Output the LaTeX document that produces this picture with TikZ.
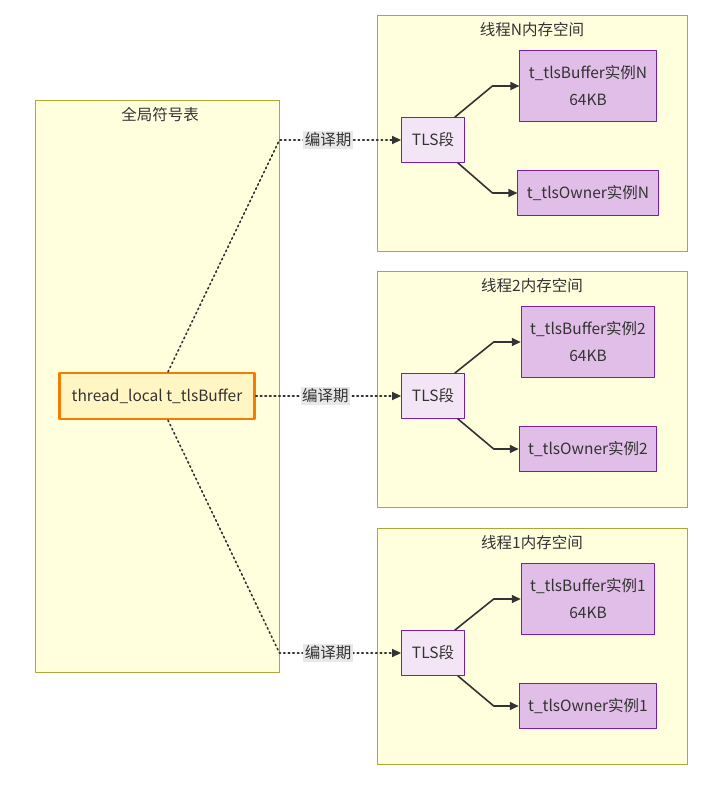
\documentclass[tikz,border=0pt]{standalone}
\usepackage{fontspec}
\setmainfont{Noto Sans CJK SC}
\usepackage{tikz}
\usetikzlibrary{calc}
\usetikzlibrary{arrows.meta}
\usetikzlibrary{positioning}
\definecolor{clfill}{HTML}{FFFFDE}
\definecolor{cldraw}{HTML}{AAAA33}
\definecolor{tlsfill}{HTML}{F3E5F5}
\definecolor{instfill}{HTML}{E1BEE7}
\definecolor{instdraw}{HTML}{7B1FA2}
\definecolor{varfill}{HTML}{FFF6C4}
\definecolor{vardraw}{HTML}{F57C00}
\definecolor{linkc}{HTML}{333333}
\definecolor{lblbg}{HTML}{E8E8E8}
\begin{document}
\begin{tikzpicture}[x=1pt, y=-1pt, line cap=round, line join=round,
  >={Triangle[length=9pt, width=8pt]},
  every node/.style={font=\fontsize{15.5}{27}\selectfont, text=linkc},
  cluster/.style={draw=cldraw, fill=clfill, line width=0.9pt, inner sep=0pt},
  tlsbox/.style={draw=instdraw, fill=tlsfill, line width=0.9pt, minimum width=63pt, minimum height=45pt, inner sep=0pt},
  instbox/.style={draw=instdraw, fill=instfill, line width=0.9pt, inner xsep=9pt, inner ysep=0pt, align=center},
  varbox/.style={draw=vardraw, fill=varfill, line width=2.4pt, minimum width=195pt, minimum height=46pt, inner sep=0pt},
  phase/.style={fill=lblbg, inner sep=1.5pt},
  compile/.style={draw=linkc, line width=1.6pt, dash pattern=on 1.6pt off 3pt, ->},
  solidlink/.style={draw=linkc, line width=1.6pt, ->}]
  \useasboundingbox (0,0) rectangle (717,789);
  %--- Global symbol table
    \node[cluster, minimum width=244pt, minimum height=572pt] (glob) at (157,386) {};
    \node at (160,115) {全局符号表};
    \node[varbox] (var) at (157,396) {thread\_local t\_tlsBuffer};
  %--- Thread memory spaces
  \foreach \id/\yy in {N/133, 2/389, 1/646} {
    \node[cluster, minimum width=310pt, minimum height=236pt] (space\id) at (532,\yy) {};
    \node at (532,\yy-103) {线程\id 内存空间};
    \node[tlsbox] (tls\id) at (433,\yy+7) {TLS段};
    \node[instbox, minimum height=71pt] (buf\id) at (588,\yy-47) {t\_tlsBuffer实例\id\\64KB};
    \node[instbox, minimum height=45pt] (own\id) at (588,\yy+60) {t\_tlsOwner实例\id};
    \draw[solidlink] ([xshift=-10pt]tls\id.north east) -- ($(buf\id.west)+(-27,0)$) -- (buf\id.west);
    \draw[solidlink] ([xshift=-7pt]tls\id.south east) -- ($(own\id.west)+(-25,0)$) -- (own\id.west);
  }
  %--- Compile time links
    \draw[compile] ([xshift=11pt]var.north) -- (glob.east |- tlsN.west)
      -- node[phase, pos=0.4] {编译期} (tlsN.west);
    \draw[compile] (var.east) -- node[phase, pos=0.48] {编译期} (tls2.west);
    \draw[compile] ([xshift=11pt]var.south) -- (glob.east |- tls1.west)
      -- node[phase, pos=0.4] {编译期} (tls1.west);
\end{tikzpicture}
\end{document}
